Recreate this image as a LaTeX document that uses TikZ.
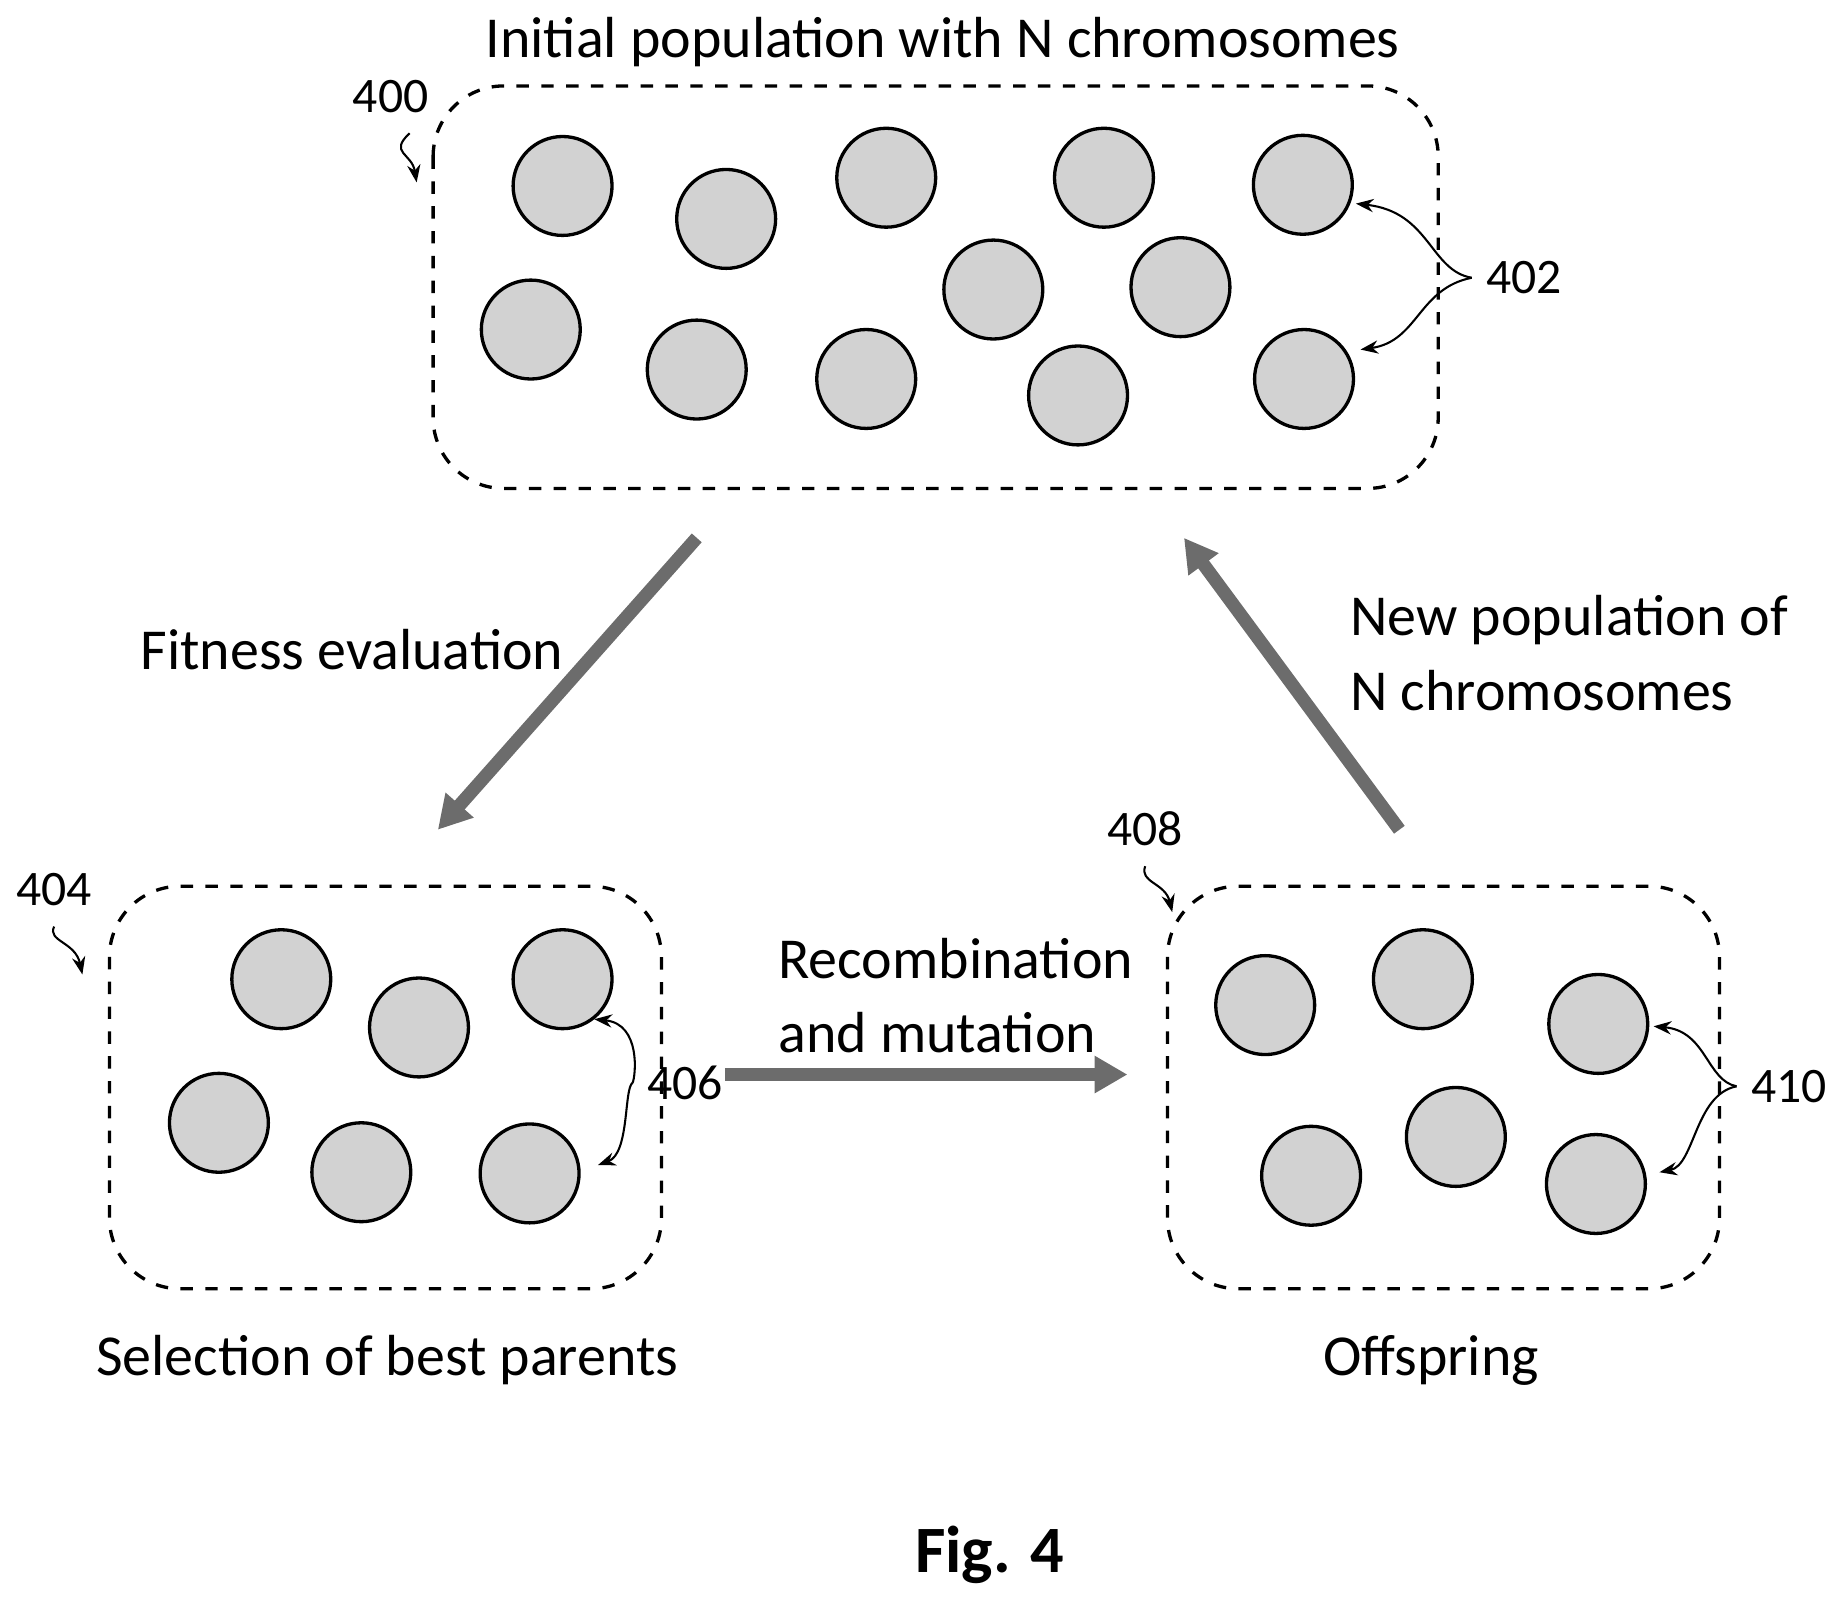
\documentclass[tikz,border=0pt]{standalone}
\usepackage{fontspec}
\setmainfont{Carlito}
\usetikzlibrary{arrows.meta}
\begin{document}
\begin{tikzpicture}[x=0.01cm,y=-0.01cm,
	chrom/.style={circle,draw,line width=0.8pt,fill=gray!35,minimum size=0.84cm,inner sep=0pt},
	pool/.style={draw,dashed,line width=0.8pt,rounded corners=0.6cm},
	flow/.style={line width=3.2pt,draw=gray!85!black,-{Triangle[length=0.28cm,width=0.3cm]}},
	ref/.style={-{Stealth[length=0.15cm]},line width=0.5pt},
	lbl/.style={font=\fontsize{14}{18}\selectfont},
	num/.style={font=\fontsize{12}{14}\selectfont}]
	\useasboundingbox (0,0) rectangle (1560,1357);

	% population boxes
	\draw[pool] (368,73) rectangle (1222,415);
	\draw[pool] (93,753) rectangle (562,1095);
	\draw[pool] (992,753) rectangle (1461,1095);

	% chromosomes
	\foreach \x/\y [count=\i] in {478/158,617/186,753/151,938/151,1107/157,451/280,592/314,736/322,844/246,1003/244,916/336,1108/322}
		\node[chrom] (p\i) at (\x,\y) {};
	\foreach \x/\y [count=\i] in {239/832,356/873,478/832,186/954,307/996,450/997}
		\node[chrom] (s\i) at (\x,\y) {};
	\foreach \x/\y [count=\i] in {1075/854,1209/832,1358/870,1114/999,1237/966,1356/1006}
		\node[chrom] (o\i) at (\x,\y) {};

	% main flow
	\coordinate (f1) at (592,457); \coordinate (f2) at (372,705);
	\coordinate (n1) at (1189,705); \coordinate (n2) at (1006,457);
	\coordinate (r1) at (616,913); \coordinate (r2) at (958,913);
	\draw[flow] (f1) -- (f2);
	\draw[flow] (n1) -- (n2);
	\draw[flow] (r1) -- (r2);

	% texts
	\node[lbl] (tinit) at (801,36) {Initial population with N chromosomes};
	\node[lbl] (tfit) at (299,552) {Fitness evaluation};
	\node[lbl,align=left,anchor=west] (tnew) at (1135,555) {New population of\\N chromosomes};
	\node[lbl,align=left,anchor=west] (trec) at (649,846) {Recombination\\and mutation};
	\node[lbl] (tsel) at (329,1156) {Selection of best parents};
	\node[lbl] (toff) at (1216,1156) {Offspring};
	\node[font=\fontsize{16}{18}\selectfont\bfseries] (tfig) at (841,1321) {Fig. 4};

	% reference numerals
	\node[num] (n400) at (332,82) {400};
	\node[num] (n402) at (1295,236) {402};
	\node[num] (n404) at (46,756) {404};
	\node[num] (n406) at (582,920) {406};
	\node[num] (n408) at (973,704) {408};
	\node[num] (n410) at (1520,923) {410};
	\draw[ref] (n400.south) ++(16,5) .. controls (330,130) and (350,130) .. (354,155);
	\draw[ref] (n402.west) .. controls (1215,230) and (1215,180) .. (1152,173);
	\draw[ref] (n402.west) .. controls (1205,245) and (1205,290) .. (1156,297);
	\draw[ref] (n404.south) ++(0,5) .. controls (40,800) and (64,800) .. (70,828);
	\draw[ref] (n406.west) .. controls (540,915) and (545,870) .. (505,866);
	\draw[ref] (n406.west) .. controls (530,925) and (535,980) .. (508,990);
	\draw[ref] (n408.south) ++(0,5) .. controls (968,750) and (990,750) .. (996,775);
	\draw[ref] (n410.west) .. controls (1450,918) and (1450,876) .. (1405,872);
	\draw[ref] (n410.west) .. controls (1440,930) and (1440,990) .. (1410,996);
\end{tikzpicture}
\end{document}
